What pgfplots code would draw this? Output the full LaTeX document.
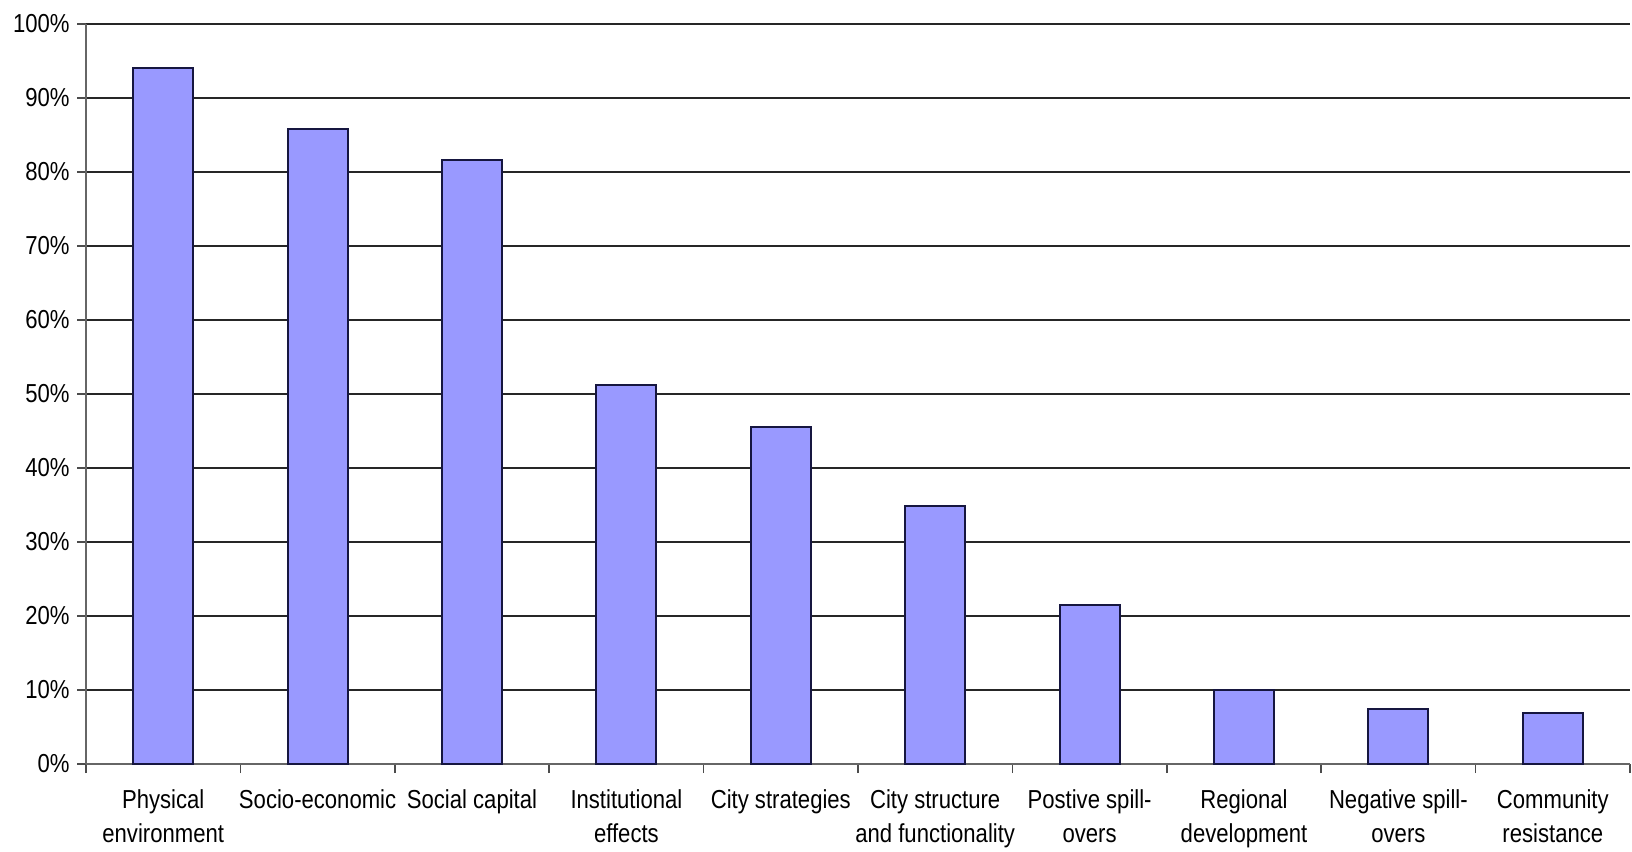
\documentclass[border=0pt]{standalone}
\usepackage{fontspec}
\setmainfont{Liberation Sans}[FakeStretch=0.85]
\usepackage{pgfplots}
\pgfplotsset{compat=1.18}
\definecolor{barfill}{HTML}{9999FF}
\definecolor{baredge}{HTML}{161640}
\begin{document}
\begin{tikzpicture}
\begin{axis}[
  at={(43pt,43.5pt)}, anchor=south west,
  scale only axis, width=772pt, height=370pt,
  xmin=0, xmax=10, ymin=0, ymax=100,
  axis x line=bottom, axis y line=left,
  axis line style={-, black!60, line width=1pt},
  tick align=outside,
  major tick length=4.5pt,
  tick style={black!70, line width=0.8pt},
  xtick={0,1,...,10},
  xticklabels={},
  extra x ticks={0.5,1.5,...,9.5},
  extra x tick labels={Physical\\environment, Socio-economic, Social capital, Institutional\\effects, City strategies, City structure\\and functionality, Postive spill-\\overs, Regional\\development, Negative spill-\\overs, Community\\resistance},
  extra x tick style={major tick length=0pt, grid=none,
    xticklabel style={align=center, font=\fontsize{13}{17}\selectfont, anchor=north, inner sep=0pt, yshift=-12.5pt}},
  ytick={0,10,...,100},
  yticklabels={0\%,10\%,20\%,30\%,40\%,50\%,60\%,70\%,80\%,90\%,100\%},
  yticklabel style={font=\fontsize{13}{15}\selectfont, inner sep=0pt, xshift=-3.5pt},
  ymajorgrids=true,
  major grid style={black!85, line width=1.1pt},
  clip=false,
]
\addplot[ybar, bar width=30pt, fill=barfill, draw=baredge, line width=1pt]
  coordinates {(0.5,94.1) (1.5,85.8) (2.5,81.6) (3.5,51.2) (4.5,45.6) (5.5,34.8) (6.5,21.5) (7.5,10.0) (8.5,7.4) (9.5,6.9)};
\end{axis}
\pgfresetboundingbox
\path[use as bounding box] (0,0) rectangle (816pt,425.5pt);
\end{tikzpicture}
\end{document}
